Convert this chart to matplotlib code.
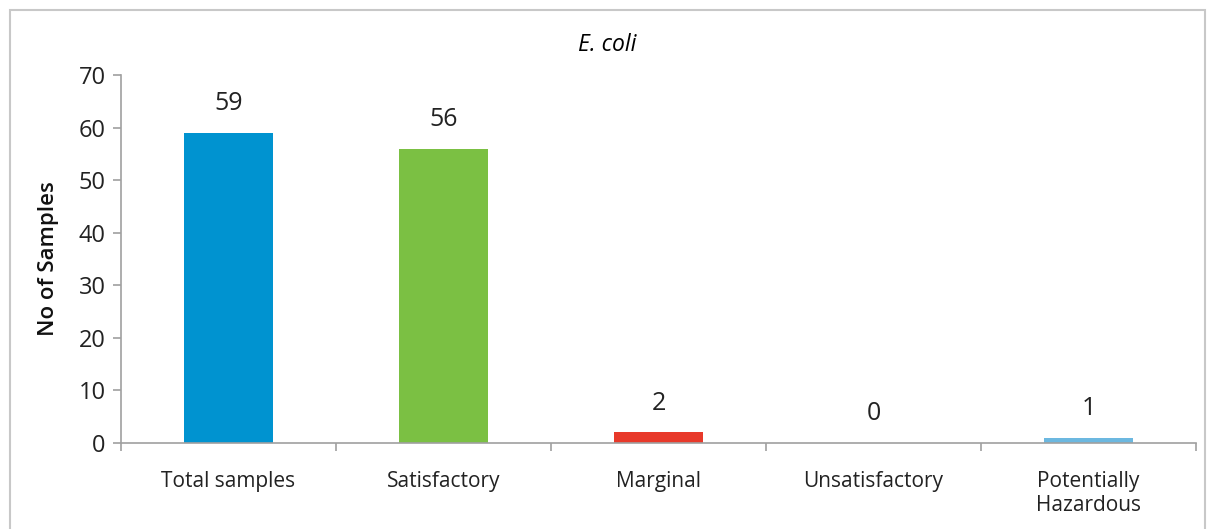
import numpy as np
import matplotlib.pyplot as plt
from matplotlib.patches import Rectangle

plt.rcParams['font.family'] = ['Open Sans', 'DejaVu Sans']

categories = ['Total samples', 'Satisfactory', 'Marginal', 'Unsatisfactory', 'Potentially\nHazardous']
values = [59, 56, 2, 0, 1]
colors = ['#0093D0', '#7BC043', '#E8392A', '#EEEEEE', '#6CB8E0']

fig = plt.figure(figsize=(12.15, 5.29), dpi=100)
ax = fig.add_axes([121/1215, 86/529, 1075/1215, 368/529])

x = np.arange(len(categories))
ax.bar(x, values, width=0.41, color=colors)
for xi, v in zip(x, values):
    ax.annotate(str(v), (xi, v), xytext=(0, 12), textcoords='offset points',
                ha='center', va='bottom', fontsize=18, color='#222222')

ax.set_xlim(-0.5, len(categories) - 0.5)
ax.set_ylim(0, 70)
ax.set_yticks(range(0, 71, 10))
ax.set_xticks(x)
ax.set_xticklabels(categories, fontsize=15, color='#222222')
ax.set_xticks(np.arange(-0.5, len(categories), 1), minor=True)
ax.tick_params(axis='x', which='major', length=0, pad=20)
ax.tick_params(axis='x', which='minor', length=6, color='#A0A0A0', width=1.2)
ax.tick_params(axis='y', length=6, color='#A0A0A0', width=1.2, labelsize=17, pad=5, labelcolor='#222222')
for s in ['top', 'right']:
    ax.spines[s].set_visible(False)
for s in ['left', 'bottom']:
    ax.spines[s].set_color('#A0A0A0')
    ax.spines[s].set_linewidth(1.2)

ax.set_ylabel('No of Samples', fontsize=16, fontweight='semibold', labelpad=14, color='#111111')
fig.text(0.5, 1 - 45/529, 'E. coli', ha='center', va='center', fontsize=16.5, style='italic')

fig.patches.append(Rectangle((10/1215, -0.05), 1195/1215, 1 - 10/529 + 0.05, transform=fig.transFigure,
                             fill=False, edgecolor='#C8C8C8', linewidth=1.5))

fig.savefig('out.png', dpi=100)
